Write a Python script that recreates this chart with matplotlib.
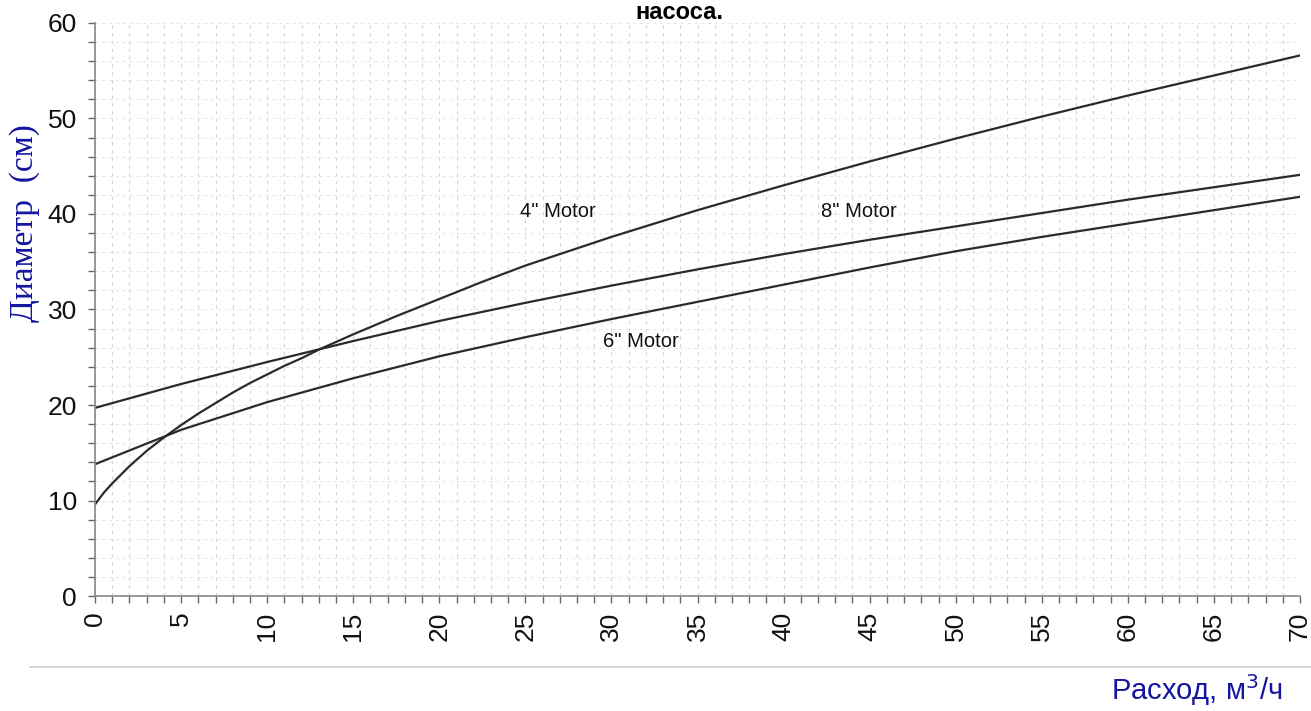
import numpy as np
import matplotlib.pyplot as plt
from matplotlib.lines import Line2D
from matplotlib.ticker import MultipleLocator

# curve data (flow m3/h -> diameter cm)
x4 = [0, 0.5, 1, 1.5, 2, 2.5, 3, 3.5, 4, 5, 6, 7, 8, 9, 10, 11, 12, 13, 14, 15,
      17.5, 20, 22.5, 25, 30, 35, 40, 45, 50, 55, 60, 65, 70]
d4 = [9.6, 10.8, 11.8, 12.7, 13.6, 14.4, 15.2, 15.9, 16.6, 17.9, 19.1, 20.2, 21.3,
      22.3, 23.2, 24.1, 24.9, 25.8, 26.6, 27.4, 29.3, 31.1, 32.9, 34.6, 37.6, 40.4,
      43.0, 45.5, 47.9, 50.2, 52.4, 54.5, 56.6]

x8 = [0, 5, 10, 15, 20, 25, 30, 35, 40, 45, 50, 55, 60, 65, 70]
d8 = [19.7, 22.2, 24.5, 26.7, 28.8, 30.7, 32.5, 34.2, 35.8, 37.3, 38.7, 40.1, 41.5, 42.8, 44.1]

x6 = [0, 5, 10, 15, 20, 25, 30, 35, 40, 45, 50, 55, 60, 65, 70]
d6 = [13.8, 17.4, 20.3, 22.8, 25.1, 27.1, 29.0, 30.8, 32.6, 34.4, 36.1, 37.6, 39.0, 40.4, 41.8]

labels = ['4" Motor', '8" Motor', '6" Motor']
label_xy = [(26.9, 40.3), (44.4, 40.3), (31.7, 26.6)]

blue = '#1414a0'

fig = plt.figure(figsize=(13.11, 7.11), dpi=100)
ax = fig.add_axes([0.0725, 0.1617, 0.9191, 0.806])

#curves
for xs, ds in [(x4, d4), (x8, d8), (x6, d6)]:
    ax.plot(xs, ds, color='#2a2a2a', lw=1.6)

for lab, (lx, ly) in zip(labels, label_xy):
    ax.text(lx, ly, lab, ha='center', va='center', fontsize=14.5,
            family='Liberation Sans', color='#111111')

ax.set_xlim(0, 70)
ax.set_ylim(0, 60)
ax.xaxis.set_major_locator(MultipleLocator(5))
ax.xaxis.set_minor_locator(MultipleLocator(1))
ax.yaxis.set_major_locator(MultipleLocator(10))
ax.yaxis.set_minor_locator(MultipleLocator(2))

ax.grid(which='both', axis='x', color='#d4d4d4', ls=(0, (3, 4)), lw=0.8)
ax.grid(which='both', axis='y', color='#e4e4e4', ls=(0, (3, 4)), lw=0.7)
ax.set_axisbelow(True)

for s in ['top', 'right']:
    ax.spines[s].set_visible(False)
for s in ['left', 'bottom']:
    ax.spines[s].set_color('#888888')
    ax.spines[s].set_linewidth(1.2)

ax.tick_params(which='both', color='#666666', direction='out', length=5, width=1.0)
ax.tick_params(axis='x', labelrotation=90, labelsize=19, pad=6)
ax.tick_params(axis='y', labelsize=19, pad=8)
for t in ax.get_xticklabels() + ax.get_yticklabels():
    t.set_family('Liberation Sans')
    t.set_color('#111111')

#title (only last line visible)
fig.text(0.518, 0.973, 'насоса.', ha='center', va='baseline', fontsize=17,
         fontweight='bold', family='Liberation Sans')

fig.text(0.019, 1 - 223 / 711, 'Диаметр  (см)', rotation=90, ha='center', va='center',
         fontsize=24, family='Liberation Serif', color=blue)

fig.text(1282 / 1311, 1 - 700 / 711, 'Расход, м$^3$/ч', ha='right', va='baseline',
         fontsize=21, family='Liberation Sans', color=blue)

fig.add_artist(Line2D([30 / 1311, 1.0], [1 - 667 / 711, 1 - 667 / 711],
                      color='#d0d0d0', lw=1.2))

fig.savefig('out.png', dpi=100)
